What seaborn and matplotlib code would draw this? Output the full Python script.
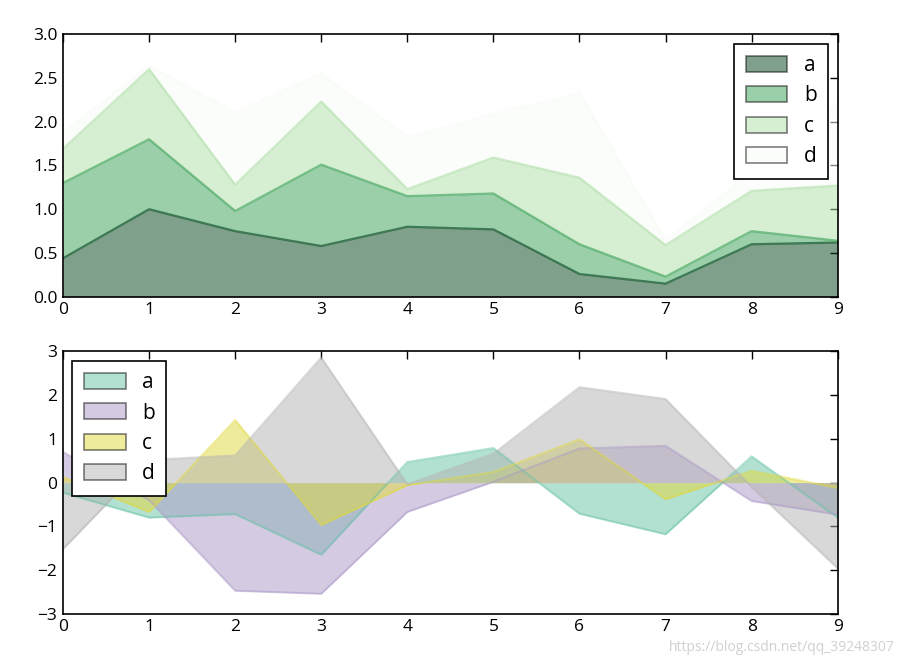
import numpy as np
import matplotlib
matplotlib.use("Agg")
import matplotlib.pyplot as plt
from matplotlib.patches import Patch
from matplotlib.colors import LinearSegmentedColormap
import seaborn as sns

sns.set_style("white")
plt.rcParams['font.family'] = ['Open Sans', 'DejaVu Sans']
plt.rcParams['text.color'] = 'black'

# x positions and series names
x = list(range(10))
names = ['a', 'b', 'c', 'd']

# top panel: stacked areas
top_a = [0.44, 1.00, 0.75, 0.58, 0.80, 0.77, 0.26, 0.15, 0.60, 0.62]
top_b = [0.86, 0.80, 0.23, 0.93, 0.35, 0.41, 0.34, 0.08, 0.15, 0.02]
top_c = [0.39, 0.80, 0.30, 0.72, 0.08, 0.41, 0.76, 0.36, 0.46, 0.63]
top_d = [0.19, 0.04, 0.83, 0.32, 0.60, 0.50, 0.97, 0.06, 0.22, 0.95]

# bottom panel: overlapping areas
bot_a = [-0.23, -0.80, -0.72, -1.65, 0.47, 0.79, -0.71, -1.18, 0.60, -0.80]
bot_b = [0.70, -0.40, -2.47, -2.54, -0.67, 0.02, 0.78, 0.84, -0.42, -0.73]
bot_c = [0.13, -0.67, 1.43, -0.97, -0.06, 0.24, 0.99, -0.38, 0.27, -0.12]
bot_d = [-1.52, 0.52, 0.62, 2.86, -0.04, 0.66, 2.18, 1.91, -0.10, -1.96]

greens = plt.get_cmap('Greens_r')(np.linspace(0, 1, 4))
# old-style (interpolated) Set2
set2_smooth = LinearSegmentedColormap.from_list('set2s', sns.color_palette('Set2', 8))
set2 = set2_smooth(np.linspace(0, 1, 4))

fig = plt.figure(figsize=(9.04, 6.58), dpi=100)
ax1 = fig.add_axes([0.0697, 0.549, 0.857, 0.399])
ax2 = fig.add_axes([0.0697, 0.067, 0.857, 0.399])

# ---- top: stacked
base = np.zeros(len(x))
for vals, col in zip([top_a, top_b, top_c, top_d], greens):
    upper = base + np.array(vals)
    ax1.fill_between(x, base, upper, color=col, alpha=0.5, linewidth=0)
    sns.lineplot(x=x, y=upper, color=col, alpha=0.6, linewidth=1.6, ax=ax1, legend=False)
    base = upper

# ---- bottom: not stacked
for vals, col in zip([bot_a, bot_b, bot_c, bot_d], set2):
    ax2.fill_between(x, 0, vals, color=col, alpha=0.5, linewidth=0)
    sns.lineplot(x=x, y=vals, color=col, alpha=0.5, linewidth=1.5, ax=ax2, legend=False)

ax1.set_xlim(0, 9)
ax1.set_ylim(0, 3)
ax1.set_yticks(np.arange(0, 3.01, 0.5))
ax1.set_yticklabels([f"{v:.1f}" for v in np.arange(0, 3.01, 0.5)])
ax2.set_xlim(0, 9)
ax2.set_ylim(-3, 3)
ax2.set_yticks(range(-3, 4))
ax2.set_yticklabels([str(v).replace('-', '\u2212') for v in range(-3, 4)])

for ax in (ax1, ax2):
    ax.set_xticks(x)
    ax.tick_params(direction='in', top=True, right=True, length=6, width=1,
                   labelsize=12.5, color='black', labelcolor='black', pad=4)
    for sp in ax.spines.values():
        sp.set_visible(True)
        sp.set_color('black')
        sp.set_linewidth(1.2)

def make_legend(ax, colors, loc):
    handles = [Patch(facecolor=(*c[:3], 0.5), edgecolor=(0, 0, 0, 0.5), linewidth=1.2)
               for c in colors]
    leg = ax.legend(handles, names, loc=loc, fontsize=15, fancybox=False,
                    framealpha=1, handlelength=2.0, handleheight=0.8,
                    labelspacing=0.45, handletextpad=0.8, borderpad=0.55,
                    borderaxespad=0.45)
    leg.get_frame().set_edgecolor('black')
    leg.get_frame().set_linewidth(1.2)
    for t in leg.get_texts():
        t.set_color('black')

make_legend(ax1, greens, 'upper right')
make_legend(ax2, set2, 'upper left')

fig.text(0.99, 0.004, "https://blog.csdn.net/qq_39248307", ha='right', va='bottom',
         fontsize=10, color='#d0d0d0')

fig.savefig("out.png", dpi=100)
